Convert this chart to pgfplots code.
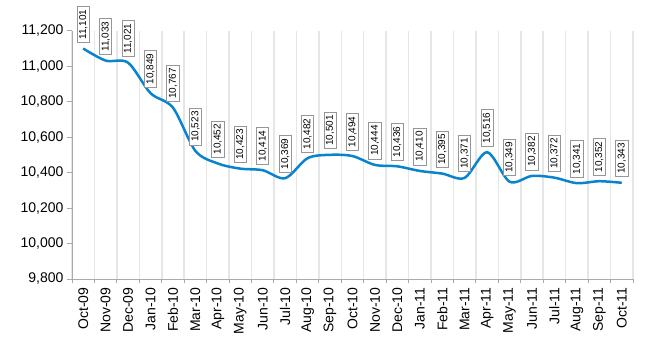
\documentclass[border=0pt]{standalone}
\usepackage{fontspec}
\setmainfont{Liberation Sans}
\usepackage{pgfplots}
\pgfplotsset{compat=1.18}
\definecolor{lineblue}{RGB}{8,132,206}
\definecolor{gridgray}{RGB}{230,230,230}
\definecolor{axisgray}{RGB}{170,170,170}
\definecolor{boxgray}{RGB}{150,150,150}
\begin{document}
\begin{tikzpicture}
\begin{axis}[
  scale only axis, width=561pt, height=248pt,
  xmin=-0.5, xmax=24.5, ymin=9800, ymax=11200,
  ytick={9800,10000,...,11200},
  scaled y ticks=false,
  xtick={0,...,24},
  xticklabels={Oct-09,Nov-09,Dec-09,Jan-10,Feb-10,Mar-10,Apr-10,May-10,Jun-10,Jul-10,Aug-10,Sep-10,Oct-10,Nov-10,Dec-10,Jan-11,Feb-11,Mar-11,Apr-11,May-11,Jun-11,Jul-11,Aug-11,Sep-11,Oct-11},
  x tick label style={rotate=90, anchor=east},
  tick label style={font=\fontsize{14}{16}\selectfont},
  major x tick style={draw=none},
  minor xtick={-0.5,0.5,...,24.5},
  xminorgrids,
  minor x grid style={gridgray, line width=1.5pt},
  minor tick length=4pt,
  major tick length=5pt,
  tick align=outside,
  axis x line*=bottom, axis y line*=left,
  axis line style={axisgray, line width=1pt},
  every tick/.style={axisgray, line width=1pt},
  clip=false,
  nodes near coords,
  nodes near coords align={horizontal},
  every node near coord/.append style={rotate=90, anchor=west, draw=boxgray, fill=white, text=black,
     font=\fontsize{10}{12}\selectfont, inner xsep=3pt, inner ysep=2pt, outer sep=6pt, line width=0.8pt},
  /pgf/number format/.cd, 1000 sep={,}, assume math mode=true
]
\addplot[smooth, line width=2.5pt, lineblue] coordinates {
(0,11101) (1,11033) (2,11021) (3,10849) (4,10767) (5,10523) (6,10452) (7,10423) (8,10414) (9,10369)
(10,10482) (11,10501) (12,10494) (13,10444) (14,10436) (15,10410) (16,10395) (17,10371) (18,10516)
(19,10349) (20,10382) (21,10372) (22,10341) (23,10352) (24,10343)
};
\end{axis}
\path (current axis.south west) ++(-72pt,-71pt) rectangle ++(650pt,350pt);
\end{tikzpicture}
\end{document}
